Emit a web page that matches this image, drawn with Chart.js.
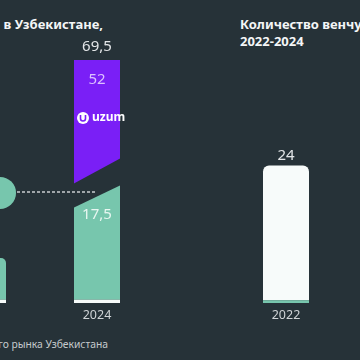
<!DOCTYPE html>
<html>
<head>
<meta charset="utf-8">
<script src="https://cdn.jsdelivr.net/npm/chart.js@4.4.0/dist/chart.umd.min.js"></script>
<style>
  html, body { margin: 0; padding: 0; }
  body { width: 360px; height: 360px; overflow: hidden; position: relative; background: #263238; font-family: "Noto Sans", sans-serif; }
  canvas { position: absolute; top: 0; }
  .title { position: absolute; color: #f4f6f7; font-weight: 700; font-size: 13px; line-height: 17px; white-space: nowrap; }
  .note { position: absolute; color: #c5cacd; font-size: 10.3px; white-space: nowrap; }
</style>
</head>
<body>
<div class="title" style="right:257px; top:16px;">Объём венчурных инвестиций в Узбекистане,</div>
<div class="title" style="left:240px; top:16px;">Количество венчурных сделок,<br>2022-2024</div>
<div class="note" style="right:252px; top:337px;">Источник: исследование венчурного рынка Узбекистана</div>

<canvas id="investChart" width="228" height="360" style="left:-74px;"></canvas>
<canvas id="dealsChart" width="114" height="360" style="left:229px;"></canvas>

<script>
// investments, $ mln
const investYears = ['2023', '2024'];
const investStrip = [0.5, 0.5];     // thin white base
const investOther = [6.3, 17.5];
const investUzum = [0, 52];

// deals count
const dealYears = ['2022'];
const dealsStrip = [0.5];
const dealsCount = [24];

const BG = '#263238';
const GREEN = '#77c6ad';
const PURPLE = '#7a1ff6';
const WHITE = '#f7fbfa';

const fmt = v => String(Math.round(v * 10) / 10).replace('.', ',');

Chart.defaults.font.family = '"Noto Sans", sans-serif';

// broken value axis: lower segment takes almost half of the height
const BREAK_VALUE = investStrip[1] + investOther[1];
const BREAK_SHARE = 0.49;
class BrokenScale extends Chart.LinearScale {
    getPixelForValue(value) {
        const d = value <= BREAK_VALUE
            ? (value - this.min) / (BREAK_VALUE - this.min) * BREAK_SHARE
            : BREAK_SHARE + (value - BREAK_VALUE) / (this.max - BREAK_VALUE) * (1 - BREAK_SHARE);
        return this.getPixelForDecimal(d);
    }
}
BrokenScale.id = 'broken';
BrokenScale.defaults = Chart.LinearScale.defaults;
Chart.register(BrokenScale);

function yearLabels(chart, labels) {
    const ctx = chart.ctx;
    const meta = chart.getDatasetMeta(0);
    ctx.save();
    ctx.fillStyle = '#cfd3d6';
    ctx.font = '12.5px "Noto Sans"';
    ctx.textAlign = 'center';
    ctx.textBaseline = 'middle';
    meta.data.forEach((bar, i) => ctx.fillText(labels[i], bar.x, bar.base + 12));
    ctx.restore();
}

const investPlugin = {
    id: 'investDecor',
    afterDatasetsDraw(chart) {
        const ctx = chart.ctx;
        const y = chart.scales.y;
        const P = y.getPixelForValue(BREAK_VALUE);
        const last = chart.getDatasetMeta(2).data[1];
        const L = last.x - last.width / 2 - 1;
        const R = last.x + last.width / 2 + 1;

        ctx.save();
        // slanted break
        ctx.fillStyle = BG;
        ctx.beginPath();
        ctx.moveTo(L, P + 24);
        ctx.lineTo(R, P + 1);
        ctx.lineTo(R, P - 26);
        ctx.lineTo(L, P);
        ctx.closePath();
        ctx.fill();

        // marker and dashed connector
        const first = chart.getDatasetMeta(1).data[0];
        const cx = first.x + first.width / 2 - 6;
        const cy = P + 9;
        ctx.fillStyle = GREEN;
        ctx.beginPath();
        ctx.arc(cx, cy, 16, 0, Math.PI * 2);
        ctx.fill();
        ctx.strokeStyle = '#c9cdd0';
        ctx.lineWidth = 1.5;
        ctx.setLineDash([3, 2]);
        ctx.beginPath();
        ctx.moveTo(cx + 17, cy - 1);
        ctx.lineTo(last.x, cy - 1);
        ctx.stroke();
        ctx.setLineDash([]);

        ctx.textAlign = 'center';
        ctx.textBaseline = 'middle';
        // total
        ctx.font = '15px "Noto Sans"';
        ctx.fillStyle = '#e3e6e8';
        ctx.fillText(fmt(investUzum[1] + investOther[1]), last.x, last.y - 13);
        // uzum part
        ctx.fillStyle = '#dcc0ff';
        ctx.fillText(fmt(investUzum[1]), last.x, last.y + 20);
        // other part
        ctx.fillStyle = '#e8f6f1';
        ctx.fillText(fmt(investOther[1]), last.x, P + 31);

        // uzum logo
        const lx = last.x - 14, ly = last.y + 58;
        ctx.fillStyle = '#ffffff';
        ctx.beginPath();
        ctx.arc(lx, ly, 6, 0, Math.PI * 2);
        ctx.fill();
        ctx.strokeStyle = PURPLE;
        ctx.lineWidth = 1.6;
        ctx.beginPath();
        ctx.moveTo(lx - 2.5, ly - 3);
        ctx.lineTo(lx - 2.5, ly + 0.5);
        ctx.arc(lx, ly + 0.5, 2.5, Math.PI, 0, true);
        ctx.lineTo(lx + 2.5, ly - 3);
        ctx.stroke();
        ctx.fillStyle = '#ffffff';
        ctx.font = 'bold 12px "Noto Sans"';
        ctx.textAlign = 'left';
        ctx.fillText('uzum', lx + 9, ly);
        ctx.restore();

        yearLabels(chart, investYears);
    }
};

const dealsPlugin = {
    id: 'dealsDecor',
    afterDatasetsDraw(chart) {
        const ctx = chart.ctx;
        const meta = chart.getDatasetMeta(1);
        ctx.save();
        ctx.font = '15px "Noto Sans"';
        ctx.fillStyle = '#e3e6e8';
        ctx.textAlign = 'center';
        ctx.textBaseline = 'middle';
        meta.data.forEach((bar, i) => ctx.fillText(fmt(dealsCount[i]), bar.x, bar.y - 10));
        ctx.restore();
        yearLabels(chart, dealYears);
    }
};

const barShape = { barPercentage: 46 / 114, categoryPercentage: 1 };
const common = {
    responsive: false,
    animation: false,
    plugins: { legend: { display: false }, tooltip: { enabled: false } }
};

new Chart(document.getElementById('investChart'), {
    type: 'bar',
    data: {
        labels: investYears,
        datasets: [
            { data: investStrip, backgroundColor: WHITE, ...barShape },
            { data: investOther, backgroundColor: GREEN, ...barShape,
              borderRadius: c => c.dataIndex === 0 ? { topLeft: 5, topRight: 5 } : 0, borderSkipped: false },
            { data: investUzum, backgroundColor: PURPLE, ...barShape }
        ]
    },
    options: {
        ...common,
        layout: { padding: { top: 60, bottom: 57, left: 0, right: 0 } },
        scales: {
            x: { display: false, stacked: true },
            y: { type: 'broken', display: false, stacked: true, min: 0, max: 70 }
        }
    },
    plugins: [investPlugin]
});

new Chart(document.getElementById('dealsChart'), {
    type: 'bar',
    data: {
        labels: dealYears,
        datasets: [
            { data: dealsStrip, backgroundColor: GREEN, ...barShape },
            { data: dealsCount, backgroundColor: WHITE, ...barShape,
              borderRadius: { topLeft: 6, topRight: 6 }, borderSkipped: false }
        ]
    },
    options: {
        ...common,
        layout: { padding: { top: 0, bottom: 57, left: 0, right: 0 } },
        scales: {
            x: { display: false, stacked: true },
            y: { display: false, stacked: true, min: 0, max: 54 }
        }
    },
    plugins: [dealsPlugin]
});
</script>
</body>
</html>
